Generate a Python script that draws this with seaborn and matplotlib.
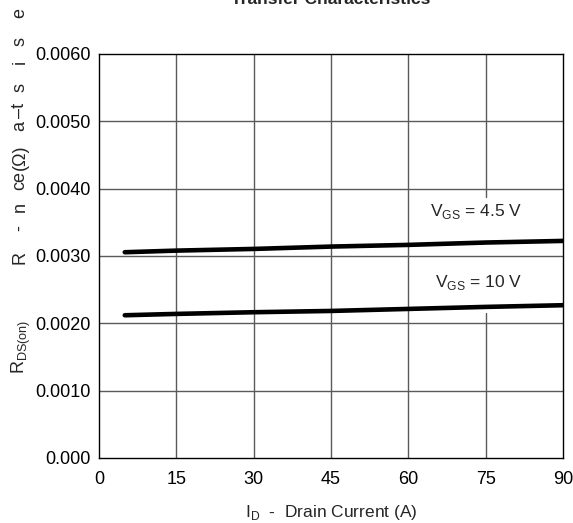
import matplotlib
matplotlib.use("Agg")
import matplotlib.pyplot as plt
import seaborn as sns
import pandas as pd

# Drain current (A) and on-resistance (ohm) for each gate drive
drain_current = [5, 15, 30, 45, 60, 75, 90]
rds_vgs_4v5 = [0.003056, 0.003080, 0.003105, 0.003140, 0.003165, 0.003200, 0.003224]
rds_vgs_10v = [0.002120, 0.002140, 0.002165, 0.002184, 0.002214, 0.002244, 0.002269]

x_ticks = [0, 15, 30, 45, 60, 75, 90]
y_ticks = [0.0, 0.001, 0.002, 0.003, 0.004, 0.005, 0.006]
y_tick_labels = ["0.000", "0.0010", "0.0020", "0.0030", "0.0040", "0.0050", "0.0060"]

df = pd.DataFrame({
    "ID": drain_current * 2,
    "RDS": rds_vgs_4v5 + rds_vgs_10v,
    "VGS": ["4.5 V"] * len(drain_current) + ["10 V"] * len(drain_current),
})

sns.set_theme(style="white")
plt.rcParams["font.family"] = ["Liberation Sans", "DejaVu Sans"]

W, H = 573, 523
fig = plt.figure(figsize=(W / 100, H / 100), dpi=100)
ax = fig.add_axes([99 / W, 1 - 458 / H, (563 - 99) / W, (458 - 54) / H])

grid_col = "#5a5a5a"
for yv in y_ticks[1:-1]:
    ax.axhline(yv, color=grid_col, lw=1.0, zorder=1)
for xv in x_ticks[1:-1]:
    if xv == 75:
        # line is interrupted behind the curve labels
        ax.axvline(xv, ymin=0, ymax=0.002155 / 0.006, color=grid_col, lw=1.0, zorder=1)
        ax.axvline(xv, ymin=0.00388 / 0.006, ymax=1, color=grid_col, lw=1.0, zorder=1)
    else:
        ax.axvline(xv, color=grid_col, lw=1.0, zorder=1)

sns.lineplot(data=df, x="ID", y="RDS", units="VGS", estimator=None,
             color="black", lw=3.3, ax=ax, legend=False, zorder=3,
             solid_capstyle="round")

ax.set_xlim(0, 90)
ax.set_ylim(0, 0.006)
ax.set_xticks(x_ticks)
ax.set_xticklabels([str(v) for v in x_ticks])
ax.set_yticks(y_ticks)
ax.set_yticklabels(y_tick_labels)
ax.tick_params(axis="both", labelsize=13, length=0, pad=6, colors="black")
ax.tick_params(axis="x", pad=9)
for s in ax.spines.values():
    s.set_color("black")
    s.set_linewidth(1.0)
ax.set_xlabel("")
ax.set_ylabel("")

ax.text(82.1, 0.003655, r"V$_{\mathregular{GS}}$ = 4.5 V", ha="right", va="center", fontsize=12.5)
ax.text(82.1, 0.00260, r"V$_{\mathregular{GS}}$ = 10 V", ha="right", va="center", fontsize=12.5)

fig.text(331 / W, 1 - 512 / H, r"I$_{\mathregular{D}}$  -  Drain Current (A)",
         ha="center", va="center", fontsize=12.5)

# y-axis caption, characters set individually
ylab_chars = [("R", 257), ("-", 228), ("n", 207), ("ce", 180), ("(Ω)", 157),
              ("a", 126), ("–t", 110), ("s", 87), ("i", 62), ("s", 42), ("e", 13)]
for ch, ypx in ylab_chars:
    fig.text(20 / W, 1 - ypx / H, ch, rotation=90, ha="center", va="center", fontsize=13)
fig.text(21 / W, 1 - 347 / H, r"R$_{\mathregular{DS(on)}}$", rotation=90,
         ha="center", va="center", fontsize=13)

fig.text(331 / W, 1 - 4 / H, "Transfer Characteristics", ha="center", va="baseline",
         fontsize=12.5, fontweight="bold")

fig.savefig("out.png", dpi=100)
